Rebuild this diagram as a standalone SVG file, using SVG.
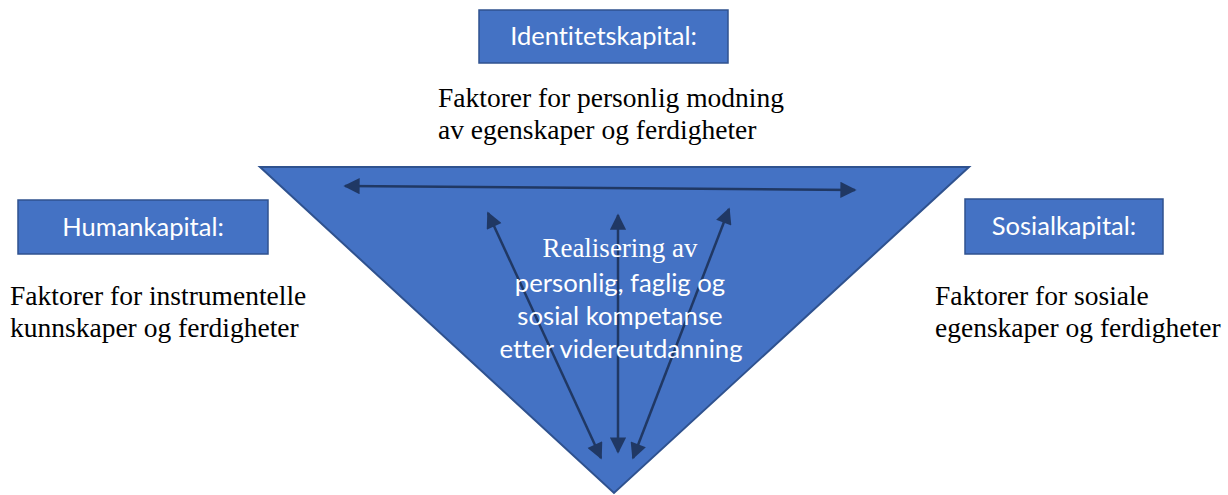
<svg xmlns="http://www.w3.org/2000/svg" width="1228" height="495" viewBox="0 0 1228 495">
  <style>
    .box { fill: #4472C4; stroke: #2F528F; stroke-width: 1.5; }
    .boxlabel { font-family: Lato, "Open Sans", sans-serif; font-size: 25.5px; fill: #ffffff; text-anchor: middle; font-variant-ligatures: none; }
    .desc { font-family: "Liberation Serif", serif; font-size: 27.5px; fill: #000000; }
    .inner { font-family: Lato, "Open Sans", sans-serif; font-size: 25.7px; fill: #ffffff; text-anchor: middle; font-variant-ligatures: none; }
    .innerserif { font-family: "Liberation Serif", serif; font-size: 27px; fill: #ffffff; text-anchor: middle; }
    .link { stroke: #203864; stroke-width: 2.5; fill: none; marker-start: url(#head); marker-end: url(#head); }
  </style>
  <defs>
    <marker id="head" viewBox="0 0 10 10" refX="9" refY="5" markerWidth="7.5" markerHeight="6.5" markerUnits="strokeWidth" orient="auto-start-reverse">
      <path d="M0,0 L10,5 L0,10 z" fill="#203864"/>
    </marker>
  </defs>

  <rect width="1228" height="495" fill="#ffffff"/>

  <!-- central inverted triangle -->
  <g id="realisering">
    <polygon points="260,167 969,167 614,493" fill="#4472C4" stroke="#2F528F" stroke-width="2"/>
  </g>

  <g id="identitetskapital">
    <rect class="box" x="479" y="10" width="249" height="53"/>
    <text class="boxlabel" x="603.5" y="45">Identitetskapital:</text>
    <text class="desc" x="438" y="107">Faktorer for personlig modning</text>
    <text class="desc" x="438" y="139">av egenskaper og ferdigheter</text>
  </g>

  <g id="humankapital">
    <rect class="box" x="18" y="200" width="250" height="54"/>
    <text class="boxlabel" x="143" y="236">Humankapital:</text>
    <text class="desc" x="10" y="305">Faktorer for instrumentelle</text>
    <text class="desc" x="10" y="337">kunnskaper og ferdigheter</text>
  </g>

  <g id="sosialkapital">
    <rect class="box" x="965" y="199" width="198" height="55"/>
    <text class="boxlabel" x="1064" y="235">Sosialkapital:</text>
    <text class="desc" x="935" y="305">Faktorer for sosiale</text>
    <text class="desc" x="935" y="337">egenskaper og ferdigheter</text>
  </g>

  <!-- connectors -->
  <g id="connectors">
    <line class="link" x1="345" y1="186" x2="855" y2="190"/>
    <line class="link" x1="488" y1="213" x2="601" y2="458"/>
    <line class="link" x1="618" y1="215" x2="618" y2="452"/>
    <line class="link" x1="729" y1="209" x2="633" y2="458"/>
  </g>

  <!-- label of the central triangle, drawn over the connectors -->
  <g id="realisering-label">
    <text class="innerserif" x="620" y="257">Realisering av</text>
    <text class="inner" x="620" y="292">personlig, faglig og</text>
    <text class="inner" x="620" y="325">sosial kompetanse</text>
    <text class="inner" x="621" y="358">etter videreutdanning</text>
  </g>
</svg>
